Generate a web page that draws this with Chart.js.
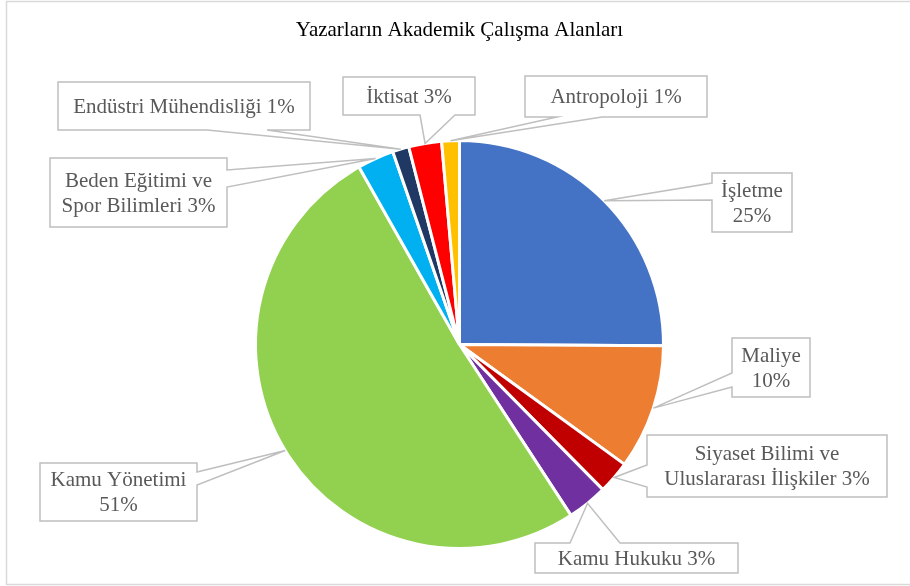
<!DOCTYPE html>
<html>
<head>
<meta charset="utf-8">
<script src="https://cdn.jsdelivr.net/npm/chart.js@4.4.1/dist/chart.umd.min.js"></script>
<style>
  html, body { margin: 0; padding: 0; background: #fff; }
  #wrap { width: 910px; height: 586px; }
</style>
</head>
<body>
<div id="wrap"><canvas id="pieChart" width="910" height="586"></canvas></div>
<script>
// --- Data ---
const categories = [
  'İşletme',
  'Maliye',
  'Siyaset Bilimi ve\nUluslararası İlişkiler',
  'Kamu Hukuku',
  'Kamu Yönetimi',
  'Beden Eğitimi ve\nSpor Bilimleri',
  'Endüstri Mühendisliği',
  'İktisat',
  'Antropoloji',
];
const shares = [25.1, 9.9, 2.6, 3.2, 51.0, 2.9, 1.3, 2.6, 1.4];
const sliceColors = ['#4472C4', '#ED7D31', '#C00000', '#7030A0', '#92D050', '#00B0F0', '#203864', '#FF0000', '#FFC000'];

// --- Callout boxes (layout only) ---
// box: [x0, y0, x1, y1], side where the pointer leaves the box, base: two points on that side
const callouts = [
  { box: [712, 173, 792, 232], side: 'left',   base: [183, 200], pctLine: true },
  { box: [732, 338, 810, 397], side: 'left',   base: [373, 387], pctLine: true },
  { box: [647, 435, 887, 497], side: 'left',   base: [465, 487], pctLine: false },
  { box: [535, 543, 738, 573], side: 'top',    base: [570, 620], pctLine: false },
  { box: [40, 463, 197, 521],  side: 'right',  base: [472, 485], pctLine: true },
  { box: [50, 158, 227, 227],  side: 'right',  base: [170, 187], pctLine: false },
  { box: [58, 82, 310, 130],   side: 'bottom', base: [207, 267], pctLine: false },
  { box: [343, 77, 475, 115],  side: 'bottom', base: [420, 455], pctLine: false },
  { box: [525, 76, 707, 117],  side: 'bottom', base: [557, 602], pctLine: false },
];

function labelLines(i) {
  const pct = Math.round(shares[i]) + '%';
  const lines = categories[i].split('\n');
  if (callouts[i].pctLine) lines.push(pct);
  else lines[lines.length - 1] += ' ' + pct;
  return lines;
}

function calloutPath(ctx, c, tip) {
  const [x0, y0, x1, y1] = c.box;
  const [a, b] = c.base;
  ctx.beginPath();
  ctx.moveTo(x0, y0);
  if (c.side === 'top') { ctx.lineTo(a, y0); ctx.lineTo(tip.x, tip.y); ctx.lineTo(b, y0); }
  ctx.lineTo(x1, y0);
  if (c.side === 'right') { ctx.lineTo(x1, a); ctx.lineTo(tip.x, tip.y); ctx.lineTo(x1, b); }
  ctx.lineTo(x1, y1);
  if (c.side === 'bottom') { ctx.lineTo(b, y1); ctx.lineTo(tip.x, tip.y); ctx.lineTo(a, y1); }
  ctx.lineTo(x0, y1);
  if (c.side === 'left') { ctx.lineTo(x0, b); ctx.lineTo(tip.x, tip.y); ctx.lineTo(x0, a); }
  ctx.closePath();
}

const frameAndCallouts = {
  id: 'frameAndCallouts',
  beforeDraw(chart) {
    const ctx = chart.ctx;
    ctx.save();
    ctx.fillStyle = '#fff';
    ctx.fillRect(0, 0, chart.width, chart.height);
    ctx.strokeStyle = '#d9d9d9';
    ctx.lineWidth = 1.5;
    ctx.beginPath();
    ctx.moveTo(chart.width + 5, 1.5);
    ctx.lineTo(6.5, 1.5);
    ctx.lineTo(6.5, 584.5);
    ctx.lineTo(chart.width + 5, 584.5);
    ctx.stroke();
    ctx.restore();
  },
  afterDraw(chart) {
    const ctx = chart.ctx;
    const arcs = chart.getDatasetMeta(0).data;
    ctx.save();
    arcs.forEach((arc, i) => {
      const c = callouts[i];
      const mid = (arc.startAngle + arc.endAngle) / 2;
      const r = arc.outerRadius;
      const tip = { x: arc.x + Math.cos(mid) * r, y: arc.y + Math.sin(mid) * r };
      calloutPath(ctx, c, tip);
      ctx.fillStyle = '#fff';
      ctx.fill();
      ctx.strokeStyle = '#bfbfbf';
      ctx.lineWidth = 1.5;
      ctx.lineJoin = 'miter';
      ctx.stroke();

      const lines = labelLines(i);
      const lh = 25;
      const cx = (c.box[0] + c.box[2]) / 2;
      const cy = (c.box[1] + c.box[3]) / 2;
      ctx.fillStyle = '#595959';
      ctx.font = '21px "Liberation Serif", "Times New Roman", serif';
      ctx.textAlign = 'center';
      ctx.textBaseline = 'middle';
      lines.forEach((line, k) => {
        ctx.fillText(line, cx, cy + (k - (lines.length - 1) / 2) * lh + 1);
      });
    });
    ctx.restore();
  },
};

function initPieChart() {
  const ctx = document.getElementById('pieChart').getContext('2d');
  new Chart(ctx, {
    type: 'pie',
    data: {
      labels: categories.map(c => c.replace('\n', ' ')),
      datasets: [{
        data: shares,
        backgroundColor: sliceColors,
        borderColor: '#fff',
        borderWidth: 3,
      }],
    },
    options: {
      responsive: false,
      animation: false,
      events: [],
      layout: { padding: { left: 254, right: 245, top: 0, bottom: 36 } },
      plugins: {
        legend: { display: false },
        tooltip: { enabled: false },
        title: {
          display: true,
          text: 'Yazarların Akademik Çalışma Alanları',
          color: '#000',
          font: { family: "'Liberation Serif', 'Times New Roman', serif", size: 21, weight: 'normal', lineHeight: 1.2 },
          padding: { top: 17.5, bottom: 96.3 },
        },
      },
    },
    plugins: [frameAndCallouts],
  });
}

initPieChart();
</script>
</body>
</html>
